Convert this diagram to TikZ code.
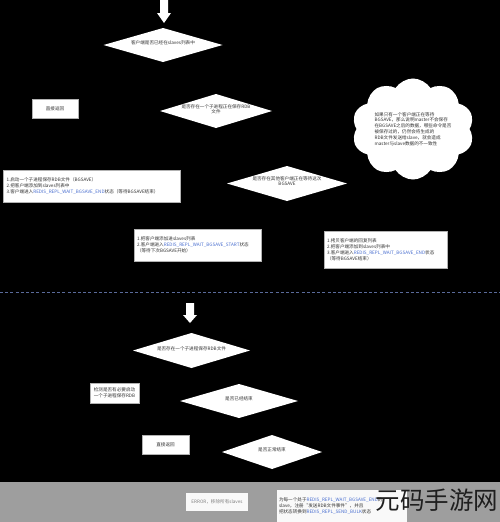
\documentclass[tikz,border=0pt]{standalone}
\usepackage{fontspec}
\setmainfont{Noto Sans CJK SC}
\usetikzlibrary{shapes.geometric,shapes.symbols}
\definecolor{txt}{HTML}{333333}
\definecolor{rblue}{HTML}{4A6FD0}
\definecolor{dashc}{HTML}{5A6A9A}
\definecolor{botgray}{HTML}{9E9E9E}
\newcommand{\rb}[1]{\textcolor{rblue}{#1}}
\newcommand{\dtext}[1]{\smash{\makebox[0pt][c]{\renewcommand\arraystretch{0.85}\begin{tabular}{@{}c@{}}#1\end{tabular}}}}
\tikzset{
  every node/.style={inner sep=0pt, outer sep=0pt},
  tx/.style={font=\fontsize{4.6}{5.9}\selectfont, text=txt},
  dia/.style={diamond, fill=white, draw=none, tx},
  box/.style={rectangle, fill=white, draw=gray!60, line width=0.3pt, tx},
  blockarrow/.style={fill=white, draw=none},
}
\begin{document}
\begin{tikzpicture}[x=1pt,y=-1pt]
\fill[black] (0,0) rectangle (500,522);
\useasboundingbox (0,0) rectangle (500,522);
% top arrow
\fill[blockarrow] (160,0) -- (168,0) -- (168,13) -- (171,13) -- (164,23) -- (157,13) -- (160,13) -- cycle;
% diamonds
\node[dia, minimum width=119pt, minimum height=34pt] (d1) at (163,45) {\dtext{客户端是否已经在slaves列表中}};
\node[box, minimum width=46pt, minimum height=19pt] (r1) at (55,108.5) {直接返回};
\node[dia, minimum width=112pt, minimum height=34pt] (d2) at (216,111) {\dtext{是否存在一个子进程正在保存RDB\\文件}};
\node[cloud, cloud puffs=10, cloud puff arc=115, aspect=1.25, fill=white, draw=none,
      minimum width=122pt, minimum height=94pt, tx, align=left] (c1) at (413,129)
  {如果只有一个客户端正在等待\\BGSAVE，那么说明master不会保存\\在BGSAVE之后的数据，哪些命令是否\\被保存过的，仍然会将生成的\\RDB文件发送给slave，就会造成\\master与slave数据的不一致性};
\node[box, minimum width=177pt, minimum height=32pt, align=left, text width=170pt] (b1) at (91.5,186)
  {1.启动一个子进程保存RDB文件（BGSAVE）\\2.把客户端添加到slaves列表中\\3.客户端进入\rb{REDIS\_REPL\_WAIT\_BGSAVE\_END}状态（等待BGSAVE结束）};
\node[dia, minimum width=120pt, minimum height=35pt] (d3) at (287,183.5) {\dtext{是否存在其他客户端正在等待这次\\BGSAVE}};
\node[box, minimum width=127pt, minimum height=32pt, align=left, text width=121pt] (b2) at (197.5,245)
  {1.把客户端添加进slaves列表\\2.客户端进入\rb{REDIS\_REPL\_WAIT\_BGSAVE\_START}状态\\（等待下次BGSAVE开始）};
\node[box, minimum width=123pt, minimum height=37pt, align=left, text width=117pt] (b3) at (385.5,249.5)
  {1.拷贝客户端的回复列表\\2.把客户端添加到slaves列表中\\3.客户端进入\rb{REDIS\_REPL\_WAIT\_BGSAVE\_END}状态\\（等待BGSAVE结束）};
% dashed separator
\coordinate (sl) at (0,292);
\coordinate (sr) at (500,292);
\draw[dashc, line width=0.9pt, dash pattern=on 3pt off 2.2pt] (sl) -- (sr);
% second arrow
\fill[blockarrow] (186,303) -- (194,303) -- (194,315) -- (197,315) -- (190,323) -- (183,315) -- (186,315) -- cycle;
\node[dia, minimum width=117pt, minimum height=35pt] (d4) at (191.5,350.5) {\dtext{是否存在一个子进程保存RDB文件}};
\node[box, minimum width=49pt, minimum height=20pt, align=center] (b4) at (114.5,393)
  {检测是否有必要启动\\一个子进程保存RDB};
\node[dia, minimum width=118pt, minimum height=34pt] (d5) at (239,401) {\dtext{是否已经结束}};
\node[box, minimum width=47pt, minimum height=19pt] (r2) at (165.5,444.5) {直接返回};
\node[dia, minimum width=100pt, minimum height=34pt] (d6) at (272,452) {\dtext{是否正常结束}};
% bottom strip
\fill[botgray] (0,482) rectangle (500,522);
\node[box, fill=white!95!gray, draw=none, minimum width=62pt, minimum height=18pt, text=gray] (e1) at (217,502) {ERROR，移除所有slaves};
\node[box, fill=white!95!gray, draw=none, minimum width=130pt, minimum height=32pt, align=left, text width=126pt, anchor=north west] (e2) at (277,490)
  {为每一个处于\rb{REDIS\_REPL\_WAIT\_BGSAVE\_END}的\\slave，注册“发送RDB文件事件”，并且\\把状态转换到\rb{REDIS\_REPL\_SEND\_BULK}状态};
\node[font=\fontsize{24.5}{24.5}\selectfont, text=black!88] (wm) at (437,500) {元码手游网};
\end{tikzpicture}
\end{document}
